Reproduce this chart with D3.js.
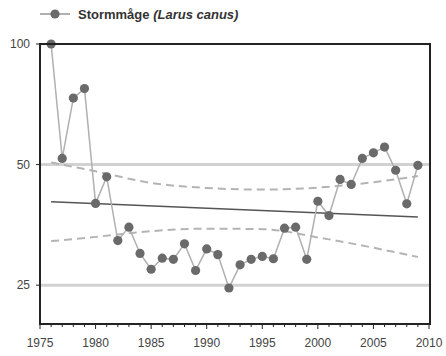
<!DOCTYPE html>
<html><head><meta charset="utf-8">
<script src="https://cdnjs.cloudflare.com/ajax/libs/d3/7.8.5/d3.min.js"></script>
<style>body{margin:0;background:#fff}svg{display:block;font-family:Arial,"Liberation Sans",sans-serif}</style>
</head><body><svg id="c" width="446" height="356"></svg>
<script>
const years = d3.range(1976, 2010);
const values = [100, 51.8, 73.3, 77.4, 40.0, 46.6, 32.3, 34.9, 30.0, 27.4,
  29.2, 29.0, 31.7, 27.2, 30.8, 29.8, 24.6, 28.1, 29.0, 29.5,
  29.1, 34.7, 34.9, 29.0, 40.5, 37.3, 45.9, 44.6, 51.8, 53.5,
  55.3, 48.4, 39.9, 49.8];
const trendYears = [1976, 2009];
const trendValues = [40.4, 37.0];
const ciYears = [1976, 1980, 1985, 1990, 1995, 2000, 2005, 2009];
const ciUpper = [50.6, 48.1, 45.0, 43.7, 43.3, 43.8, 45.2, 46.8];
const ciLower = [32.2, 33.0, 34.1, 34.6, 34.5, 32.9, 31.0, 29.4];
const yTicks = [25, 50, 100];
const xTicks = [1975, 1980, 1985, 1990, 1995, 2000, 2005, 2010];
const seriesName = "Stormmåge ";
const seriesLatin = "(Larus canus)";

const svg = d3.select("#c");
const L = 40, R = 430, T = 44, B = 324;
const x = d3.scaleLinear().domain([1975, 2010]).range([L, 429]);
const y = d3.scaleLog().domain([20, 100]).range([B, T]);

// gridlines
svg.append("g").selectAll("line").data(yTicks.filter(d => d < 100)).join("line")
  .attr("x1", L).attr("x2", R).attr("y1", d => y(d)).attr("y2", d => y(d))
  .attr("stroke", "#d2d2d2").attr("stroke-width", 3);

// CI dashed
const ciLine = d3.line().x(d => x(d[0])).y(d => y(d[1])).curve(d3.curveMonotoneX);
[ciUpper, ciLower].forEach(arr => {
  svg.append("path").attr("d", ciLine(ciYears.map((yr, i) => [yr, arr[i]])))
    .attr("fill", "none").attr("stroke", "#b4b4b4").attr("stroke-width", 2)
    .attr("stroke-dasharray", "8,5");
});

// trend
svg.append("path").attr("d", d3.line().x(d => x(d[0])).y(d => y(d[1]))(trendYears.map((yr, i) => [yr, trendValues[i]])))
  .attr("fill", "none").attr("stroke", "#555").attr("stroke-width", 1.6);

// data line
const pts = years.map((yr, i) => [yr, values[i]]);
svg.append("path").attr("d", d3.line().x(d => x(d[0])).y(d => y(d[1]))(pts))
  .attr("fill", "none").attr("stroke", "#b0b0b0").attr("stroke-width", 1.5);
svg.append("g").selectAll("circle").data(pts).join("circle")
  .attr("cx", d => x(d[0])).attr("cy", d => y(d[1])).attr("r", 4.6)
  .attr("fill", "#6a6a6a");

// frame
svg.append("rect").attr("x", L).attr("y", T).attr("width", R - L).attr("height", B - T)
  .attr("fill", "none").attr("stroke", "#222").attr("stroke-width", 2);

// x axis ticks
const xMinor = d3.range(1975, 2011);
svg.append("g").selectAll("line").data(xMinor).join("line")
  .attr("x1", d => x(d)).attr("x2", d => x(d)).attr("y1", B).attr("y2", d => B + (d % 5 === 0 ? 5 : 3))
  .attr("stroke", "#222").attr("stroke-width", 1);
svg.append("g").selectAll("text").data(xTicks).join("text")
  .attr("x", d => x(d)).attr("y", 347).attr("text-anchor", "middle")
  .attr("font-size", 12).attr("fill", "#444").text(d => d);

// y axis ticks
svg.append("g").selectAll("line").data(yTicks).join("line")
  .attr("x1", L - 4).attr("x2", L).attr("y1", d => y(d)).attr("y2", d => y(d))
  .attr("stroke", "#222").attr("stroke-width", 1);
svg.append("g").selectAll("text").data(yTicks).join("text")
  .attr("x", 30).attr("y", d => y(d) + 4).attr("text-anchor", "end")
  .attr("font-size", 12).attr("fill", "#444").text(d => d);

// legend
svg.append("line").attr("x1", 40).attr("x2", 70).attr("y1", 14).attr("y2", 14)
  .attr("stroke", "#b0b0b0").attr("stroke-width", 2);
svg.append("circle").attr("cx", 55).attr("cy", 14).attr("r", 4.6).attr("fill", "#6a6a6a");
const lt = svg.append("text").attr("x", 78).attr("y", 18.5).attr("font-size", 13)
  .attr("font-weight", "bold").attr("fill", "#333");
lt.append("tspan").text(seriesName);
lt.append("tspan").attr("font-style", "italic").text(seriesLatin);
</script></body></html>
